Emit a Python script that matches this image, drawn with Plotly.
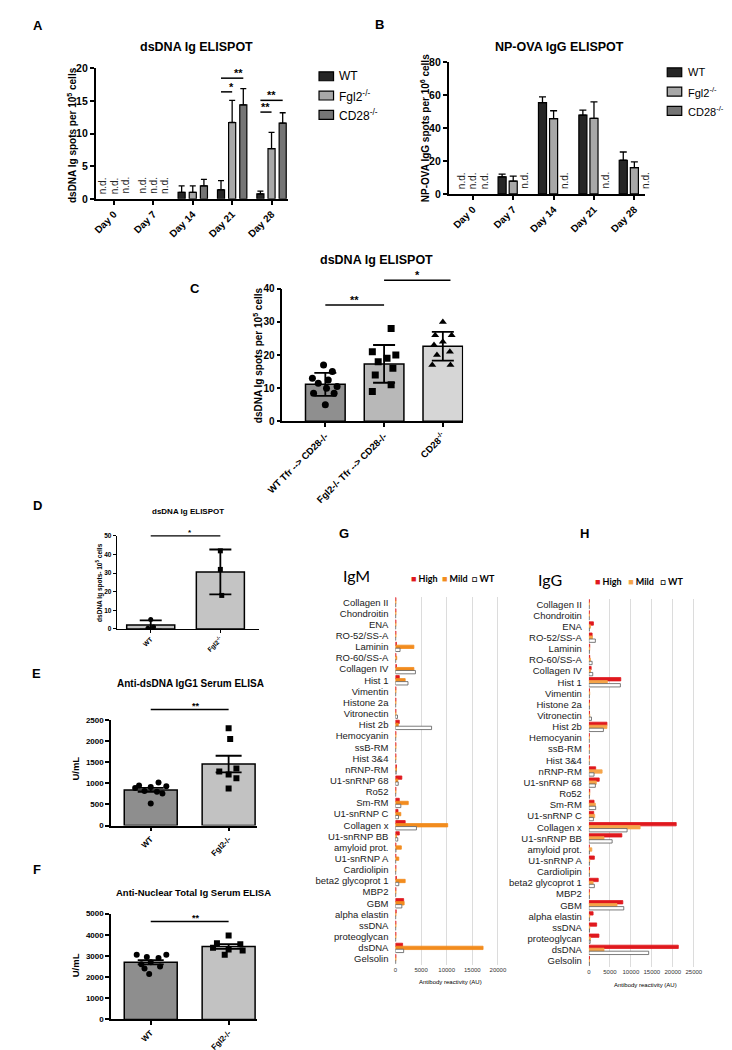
import numpy as np
import plotly.graph_objects as go

W, H = 732, 1050
FONT = "Liberation Sans"

# ---------------- data ----------------
# A: dsDNA Ig ELISPOT (spots per 10^5 cells); None = n.d.
days = ["Day 0", "Day 7", "Day 14", "Day 21", "Day 28"]
a_wt = [None, None, 1.0, 1.4, 0.75]
a_wt_err = [0, 0, 1.0, 1.4, 0.45]
a_fgl2 = [None, None, 1.0, 11.7, 7.7]
a_fgl2_err = [0, 0, 1.0, 3.4, 2.5]
a_cd28 = [None, None, 2.0, 14.4, 11.6]
a_cd28_err = [0, 0, 1.0, 2.5, 1.6]
# (day index, from group, to group, height, label)
a_sig = [(3, 0, 1, 16.4, "*"), (3, 0, 2, 18.5, "**"),
         (4, 0, 1, 13.3, "**"), (4, 0, 2, 15.1, "**")]

# B: NP-OVA IgG ELISPOT (spots per 10^6 cells)
b_wt = [None, 10.4, 55.5, 48.0, 20.5]
b_wt_err = [0, 1.6, 3.5, 3.0, 5.0]
b_fgl2 = [None, 7.8, 45.8, 46.0, 16.0]
b_fgl2_err = [0, 3.0, 4.8, 10.0, 3.5]
b_cd28 = [None, None, None, None, None]

group_names = ["WT", "Fgl2<sup>-/-</sup>", "CD28<sup>-/-</sup>"]

# C: dsDNA Ig ELISPOT after Tfr transfer
c_labels = ["WT Tfr --> CD28-/-", "Fgl2-/- Tfr --> CD28-/-", "CD28<sup>-/-</sup>"]
c_wt = [17, 15, 13, 12.5, 11.5, 10.5, 10, 8.5, 8.5, 5]
c_fgl2 = [28, 21, 20, 19, 18, 16, 14, 11, 9]
c_cd28 = [30, 26, 26, 24, 23, 21, 20, 17, 17]
c_sig = [(0, 1, 35.1, "**"), (1, 2.13, 42.6, "*")]

# D: dsDNA Ig ELISPOT
d_labels = ["WT", "Fgl2<sup>-/-</sup>"]
d_wt = [5, 1, 0.3]
d_fgl2 = [42, 32, 18]
d_sig = [(0, 1, 50, "*")]

# E: Anti-dsDNA IgG1 serum ELISA (U/mL)
e_labels = ["WT", "Fgl2-/-"]
e_wt = [1020, 950, 930, 910, 890, 820, 800, 760, 520]
e_fgl2 = [2300, 2050, 1350, 1280, 1210, 1120, 880]
e_sig = [(0, 1, 2744, "**")]

# F: Anti-nuclear total Ig serum ELISA (U/mL)
f_wt = [3050, 3050, 2950, 2900, 2700, 2600, 2500, 2400, 2150]
f_fgl2 = [3960, 3600, 3550, 3380, 3300, 3250, 3050]
f_sig = [(0, 1, 4626, "**")]

# G / H: autoantigen array, antibody reactivity (AU)
antigens = ["Collagen II", "Chondroitin", "ENA", "RO-52/SS-A", "Laminin", "RO-60/SS-A",
            "Collagen IV", "Hist 1", "Vimentin", "Histone 2a", "Vitronectin", "Hist 2b",
            "Hemocyanin", "ssB-RM", "Hist 3&4", "nRNP-RM", "U1-snRNP 68", "Ro52", "Sm-RM",
            "U1-snRNP C", "Collagen x", "U1-snRNP BB", "amyloid prot.", "U1-snRNP A",
            "Cardiolipin", "beta2 glycoprot 1", "MBP2", "GBM", "alpha elastin", "ssDNA",
            "proteoglycan", "dsDNA", "Gelsolin"]
g_high = [100, 100, 100, 100, 200, 100, 200, 750, 100, 100, 100, 750, 100, 100, 100, 200, 1250,
          100, 750, 500, 1900, 750, 100, 100, 100, 200, 100, 1600, 150, 100, 100, 1400, 100]
g_mild = [100, 100, 100, 100, 3600, 250, 3600, 1900, 100, 100, 100, 550, 100, 100, 100, 200, 450,
          100, 2500, 1050, 10200, 200, 1150, 650, 100, 1900, 100, 1700, 100, 100, 100, 17100, 100]
g_wt = [50, 50, 50, 50, 900, 50, 3900, 2450, 50, 50, 400, 7050, 50, 50, 50, 150, 550,
        50, 1050, 600, 4100, 450, 100, 50, 50, 650, 50, 1250, 50, 50, 50, 1600, 50]
h_high = [100, 100, 1080, 770, 200, 200, 540, 7600, 150, 150, 150, 4300, 100, 100, 100, 1620, 2460,
          200, 1230, 1150, 20800, 7850, 100, 1300, 150, 2230, 100, 8080, 1000, 1850, 2390, 21300, 150]
h_mild = [100, 100, 380, 850, 200, 380, 380, 4400, 200, 150, 200, 4300, 100, 100, 100, 3150, 1770,
          200, 1540, 1390, 12200, 3600, 700, 200, 150, 1000, 150, 6700, 200, 200, 380, 3600, 150]
h_wt = [50, 50, 100, 1540, 100, 770, 920, 7500, 100, 100, 620, 3460, 50, 50, 50, 1230, 1540,
        100, 1620, 1080, 9100, 5540, 100, 100, 100, 1300, 100, 8310, 100, 150, 300, 14240, 100]

# ---------------- layout geometry (pixels) ----------------
# panel: (x px domain, y px domain top/bottom, x range, y range)
P = {
    "A": ((73, 272), (55, 187), (-0.467, 4.42), (0, 20)),
    "B": ((438, 641), (49, 182), (-0.599, 4.263), (0, 80)),
    "C": ((266, 453), (278, 412), (-0.7325, 2.3457), (0, 40)),
    "D": ((95, 242), (528, 622), (-0.486, 1.556), (0, 50)),
    "E": ((89, 240), (714, 821), (-0.509, 1.366), (0, 2500)),
    "F": ((89, 240), (910, 1017), (-0.509, 1.366), (0, 5000)),
    "G": ((383, 491.6), (589.4, 961.6), (0, 20500), (32.5, -0.5)),
    "H": ((583, 693.7), (591.4, 963.6), (0, 25500), (32.5, -0.5)),
}
KEY = {"A": "", "B": "2", "C": "3", "D": "4", "E": "5", "F": "6", "G": "7", "H": "8"}
BAR_COLORS = ["#262626", "#a8a8a8", "#757575"]

shapes, annotations = [], []


def paper(p, xv, yv):
    (x0, x1), (yt, yb), xr, yr = P[p]
    px = x0 + (xv - xr[0]) / (xr[1] - xr[0]) * (x1 - x0)
    py = yb - (yv - yr[0]) / (yr[1] - yr[0]) * (yb - yt)
    return px / W, 1 - py / H


def text(xpx, ypx, s, size, bold=False, angle=0, family=FONT, xanchor="center", yanchor="middle"):
    annotations.append(dict(xref="paper", yref="paper", x=xpx / W, y=1 - ypx / H, text=s,
                            showarrow=False, textangle=angle, xanchor=xanchor, yanchor=yanchor,
                            font=dict(family=family, size=size, color="black",
                                      weight="bold" if bold else "normal")))


def sig(p, xa, xb, yv, label, size=11, lw=1.5):
    xa_p, y_p = paper(p, xa, yv)
    xb_p, _ = paper(p, xb, yv)
    shapes.append(dict(type="line", xref="paper", yref="paper", x0=xa_p, x1=xb_p,
                       y0=y_p, y1=y_p, line=dict(color="black", width=lw)))
    annotations.append(dict(xref="paper", yref="paper", x=(xa_p + xb_p) / 2, y=y_p, text=label,
                            showarrow=False, yanchor="bottom", yshift=-3,
                            font=dict(family=FONT, size=size, color="black", weight="bold")))


def legend_box(x0, ycen, names, colors, size=12, gap=19, step=19.5):
    for i, (nm, col) in enumerate(zip(names, colors)):
        yc = ycen + i * step
        shapes.append(dict(type="rect", xref="paper", yref="paper",
                           x0=x0 / W, x1=(x0 + 15) / W, y0=1 - (yc - 4.5) / H, y1=1 - (yc + 4.5) / H,
                           fillcolor=col, line=dict(color="black", width=1.2)))
        text(x0 + gap, yc, nm, size, xanchor="left")


def nd_label(p, xv):
    xp, yp = paper(p, xv, 0)
    annotations.append(dict(xref="paper", yref="paper", x=xp, y=yp, text="n.d.",
                            textangle=-90, showarrow=False, xanchor="center",
                            yanchor="bottom", yshift=3,
                            font=dict(family=FONT, size=10, color="#222")))


fig = go.Figure()

# ---------------- A ----------------
a_off = [-0.283, 0, 0.283]
for g, (vals, err) in enumerate([(a_wt, a_wt_err), (a_fgl2, a_fgl2_err), (a_cd28, a_cd28_err)]):
    fig.add_trace(go.Bar(
        x=list(range(len(days))), y=vals, width=0.18, offset=a_off[g] - 0.09,
        marker=dict(color=BAR_COLORS[g], line=dict(color="black", width=1.2)),
        error_y=dict(type="data", symmetric=False, array=err, arrayminus=[0] * len(err),
                     width=3, thickness=1.3, color="black"),
        name=group_names[g], showlegend=False, xaxis="x", yaxis="y"))
    for k, v in enumerate(vals):
        if v is None:
            nd_label("A", k + a_off[g])
for k, ga, gb, hv, lab in a_sig:
    sig("A", k + a_off[ga], k + a_off[gb], hv, lab)
legend_box(304, 63, group_names, BAR_COLORS)

# ---------------- B ----------------
b_off = [-0.275, 0, 0.275]
for g, (vals, err) in enumerate([(b_wt, b_wt_err), (b_fgl2, b_fgl2_err), (b_cd28, [0] * 5)]):
    fig.add_trace(go.Bar(
        x=list(range(len(days))), y=vals, width=0.2, offset=b_off[g] - 0.1,
        marker=dict(color=BAR_COLORS[g], line=dict(color="black", width=1.2)),
        error_y=dict(type="data", symmetric=False, array=err, arrayminus=[0] * len(err),
                     width=3.5, thickness=1.3, color="black"),
        name=group_names[g], showlegend=False, xaxis="x2", yaxis="y2"))
    for k, v in enumerate(vals):
        if v is None:
            nd_label("B", k + b_off[g])
legend_box(664, 59, group_names, BAR_COLORS, size=11, gap=19)


# ---------------- dot + bar panels (C, D, E, F) ----------------
def dot_panel(p, groups, colors, symbols, jit, width, msize, err_kind, cap, lw=1.5):
    k = KEY[p]
    means = [float(np.mean(g)) for g in groups]
    if err_kind == "sd":
        errs = [float(np.std(g, ddof=1)) for g in groups]
    else:
        errs = [float(np.std(g, ddof=1) / np.sqrt(len(g))) for g in groups]
    xs = list(range(len(groups)))
    fig.add_trace(go.Bar(x=xs, y=means, width=width, marker=dict(color=colors, line=dict(color="black", width=lw)),
                         showlegend=False, xaxis="x" + k, yaxis="y" + k))
    for i, g in enumerate(groups):
        fig.add_trace(go.Scatter(x=[i + j for j in jit[i]], y=g, mode="markers",
                                 marker=dict(symbol=symbols[i], size=msize, color="black"),
                                 showlegend=False, xaxis="x" + k, yaxis="y" + k))
    fig.add_trace(go.Scatter(x=xs, y=means, mode="markers", marker=dict(size=2, color="rgba(0,0,0,0)"),
                             error_y=dict(type="data", array=errs, width=cap, thickness=lw + 0.3, color="black"),
                             showlegend=False, xaxis="x" + k, yaxis="y" + k))


dot_panel("C", [c_wt, c_fgl2, c_cd28], ["#8f8f8f", "#b8b8b8", "#d6d6d6"],
          ["circle", "square", "triangle-up"],
          [[-0.03, 0.12, -0.22, 0.05, -0.12, 0.2, 0.02, -0.2, 0.15, 0.0],
           [0.12, -0.2, 0.2, 0.05, -0.1, 0.15, -0.15, 0.12, -0.2],
           [0.0, -0.13, 0.15, 0.0, -0.15, 0.12, -0.1, -0.18, 0.13]],
          0.675, 7, "sd", 11)
for xa, xb, hv, lab in c_sig:
    sig("C", xa, xb, hv, lab)

dot_panel("D", [d_wt, d_fgl2], ["#c4c4c4", "#c4c4c4"], ["circle", "square"],
          [[0.0, 0.04, -0.04], [0.0, 0.0, 0.02]], 0.69, 5, "sd", 11)
for xa, xb, hv, lab in d_sig:
    sig("D", xa, xb, hv, lab, size=8, lw=1.2)

dot_panel("E", [e_wt, e_fgl2], ["#8e8e8e", "#c2c2c2"], ["circle", "square"],
          [[0.1, -0.15, 0.2, 0.0, -0.2, -0.08, 0.08, 0.15, 0.0],
           [0.0, 0.02, 0.1, -0.12, 0.0, 0.1, 0.0]], 0.68, 6, "sem", 13)
for xa, xb, hv, lab in e_sig:
    sig("E", xa, xb, hv, lab, size=9)

dot_panel("F", [f_wt, f_fgl2], ["#8e8e8e", "#c2c2c2"], ["circle", "square"],
          [[-0.18, 0.2, -0.05, 0.1, 0.0, -0.12, 0.12, -0.08, -0.02],
           [0.0, -0.15, 0.15, -0.2, 0.0, 0.18, -0.05]], 0.68, 6, "sem", 13)
for xa, xb, hv, lab in f_sig:
    sig("F", xa, xb, hv, lab, size=9)

# ---------------- G / H ----------------
h_off = [-0.27, 0, 0.27]
for p, hi, mi, wt, mild_col in [("G", g_high, g_mild, g_wt, "#f28c1e"),
                                ("H", h_high, h_mild, h_wt, "#f5a54a")]:
    k = KEY[p]
    idx = list(range(len(antigens)))
    for j, (vals, col, line) in enumerate([(hi, "#e0191e", "#e0191e"), (mi, mild_col, mild_col),
                                           (wt, "white", "#5a5a5a")]):
        fig.add_trace(go.Bar(y=idx, x=vals, orientation="h", width=0.3, offset=h_off[j] - 0.15,
                             marker=dict(color=col, line=dict(color=line, width=0.8)),
                             showlegend=False, xaxis="x" + k, yaxis="y" + k))


# ---------------- axes ----------------
def bar_axes(p, tickvals, ticktext, dtick, xsize, ysize, lw=1.5, tl=4):
    (x0, x1), (yt, yb), xr, yr = P[p]
    k = KEY[p]
    xa = dict(domain=[x0 / W, x1 / W], range=list(xr), anchor="y" + k, showline=True,
              linecolor="black", linewidth=lw, ticks="outside", ticklen=tl, tickwidth=lw,
              tickcolor="black", tickvals=tickvals, ticktext=ticktext, tickangle=-45,
              tickfont=dict(family=FONT, size=xsize, color="black", weight="bold"),
              showgrid=False, zeroline=False, fixedrange=True)
    ya = dict(domain=[1 - yb / H, 1 - yt / H], range=list(yr), anchor="x" + k, showline=True,
              linecolor="black", linewidth=lw, ticks="outside", ticklen=tl, tickwidth=lw,
              tickcolor="black", dtick=dtick, tick0=0,
              tickfont=dict(family=FONT, size=ysize, color="black", weight="bold"),
              showgrid=False, zeroline=False, fixedrange=True)
    return xa, ya


def array_axes(p):
    (x0, x1), (yt, yb), xr, yr = P[p]
    k = KEY[p]
    xa = dict(domain=[x0 / W, x1 / W], range=list(xr), anchor="y" + k, showline=False,
              showgrid=True, gridcolor="#dcdcdc", gridwidth=1, zeroline=False, dtick=5000,
              tick0=0, tickformat="d", ticks="",
              tickfont=dict(family=FONT, size=6, color="#333"))
    ya = dict(domain=[1 - yb / H, 1 - yt / H], range=list(yr), anchor="x" + k, showline=False,
              showgrid=False, zeroline=False, ticks="", tickvals=list(range(len(antigens))),
              ticktext=antigens, ticklabelstandoff=6,
              tickfont=dict(family=FONT, size=9.5, color="#1a1a1a"))
    return xa, ya


axes = {
    "A": bar_axes("A", list(range(5)), days, 5, 10, 10.5),
    "B": bar_axes("B", list(range(5)), days, 20, 10, 10.5),
    "C": bar_axes("C", [0, 1, 2], c_labels, 10, 9.5, 10),
    "D": bar_axes("D", [0, 1], d_labels, 10, 6.5, 6.5, lw=1.2, tl=3),
    "E": bar_axes("E", [0, 1], e_labels, 500, 8, 8),
    "F": bar_axes("F", [0, 1], e_labels, 1000, 8, 8),
    "G": array_axes("G"),
    "H": array_axes("H"),
}
layout_axes = {}
for p, (xa, ya) in axes.items():
    k = KEY[p]
    layout_axes["xaxis" + k] = xa
    layout_axes["yaxis" + k] = ya

# ---------------- titles and labels ----------------
for letter, xp, yp in [("A", 13, 12), ("B", 367, 11), ("C", 176, 278), ("D", 13, 497),
                       ("E", 12, 667), ("F", 12, 865), ("G", 330, 525), ("H", 578, 525)]:
    text(xp, yp, letter, 13, bold=True)

text(177, 33, "dsDNA Ig ELISPOT", 12.5, bold=True)
text(553, 33, "NP-OVA IgG ELISPOT", 12.5, bold=True)
text(363, 249, "dsDNA Ig ELISPOT", 12.5, bold=True)
text(169, 503, "dsDNA Ig ELISPOT", 8, bold=True)
text(171, 677, "Anti-dsDNA IgG1 Serum ELISA", 10, bold=True)
text(174, 889, "Anti-Nuclear Total Ig Serum ELISA", 9.5, bold=True)

text(48, 122, "dsDNA Ig spots per 10<sup>5</sup> cells", 10, bold=True, angle=-90)
text(413, 115, "NP-OVA IgG spots per 10<sup>6</sup> cells", 10, bold=True, angle=-90)
text(241, 345, "dsDNA Ig spots per 10<sup>5</sup> cells", 10, bold=True, angle=-90)
text(77, 575, "dsDNA Ig spots- 10<sup>5</sup> cells", 6.5, bold=True, angle=-90)
text(52, 763, "U/mL", 9.5, bold=True, angle=-90)
text(52, 962, "U/mL", 9.5, bold=True, angle=-90)

text(343, 568, "IgM", 16, family="Lato")
text(543, 572, "IgG", 16, family="Lato")
text(397, 571, '<span style="color:#e0191e">■</span> High  <span style="color:#f28c1e">■</span> Mild  □ WT',
     9, bold=True, family="Lato", xanchor="left")
text(587, 574, '<span style="color:#e0191e">■</span> High   <span style="color:#f5a54a">■</span> Mild   □ WT',
     9, bold=True, family="Lato", xanchor="left")
text(440, 979, "Antibody reactivity (AU)", 6)
text(642, 982, "Antibody reactivity (AU)", 6)

fig.update_layout(
    width=W, height=H, margin=dict(l=0, r=0, t=0, b=0),
    paper_bgcolor="white", plot_bgcolor="white", barmode="overlay", showlegend=False,
    font=dict(family=FONT, color="black"),
    shapes=shapes, annotations=annotations,
    **layout_axes,
)

fig.write_html("out.html")
